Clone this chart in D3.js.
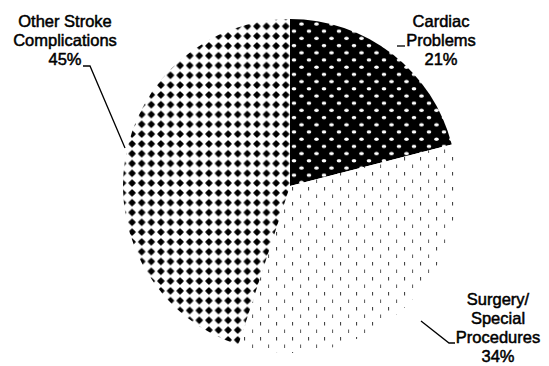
<!DOCTYPE html>
<html>
<head>
<meta charset="utf-8">
<script src="https://cdn.jsdelivr.net/npm/d3@7"></script>
<style>
  html, body { margin: 0; padding: 0; background: #fff; }
  svg { display: block; }
  text { font-family: "Liberation Sans", Arial, sans-serif; font-size: 16.5px; fill: #000; }
</style>
</head>
<body>
<svg id="chart" width="549" height="366"></svg>
<script>
// ---- data ----
const categories = ["Cardiac Problems", "Surgery/Special Procedures", "Other Stroke Complications"];
const values = [21, 34, 45];
const labelNames = [["Cardiac", "Problems"], ["Surgery/", "Special", "Procedures"], ["Other Stroke", "Complications"]];

// ---- layout ----
const W = 549, H = 366;
const cx = 290, cy = 186, R = 167;
const svg = d3.select("#chart");
const defs = svg.append("defs");

// Pattern: Cardiac - black with white staggered dots
const p1 = defs.append("pattern").attr("id", "pCardiac").attr("patternUnits", "userSpaceOnUse")
  .attr("width", 15).attr("height", 14.4);
p1.append("rect").attr("width", 15).attr("height", 14.4).attr("fill", "#000");
[[4, 3.6], [11.5, 10.8]].forEach(([x, y]) =>
  p1.append("ellipse").attr("cx", x).attr("cy", y).attr("rx", 2.3).attr("ry", 1.7).attr("fill", "#fff"));

// Pattern: Surgery - white with short vertical dashes
const p2 = defs.append("pattern").attr("id", "pSurgery").attr("patternUnits", "userSpaceOnUse")
  .attr("width", 16).attr("height", 15);
p2.append("rect").attr("width", 16).attr("height", 15).attr("fill", "#fff");
[[2, 1, "#444"], [10, 8.5, "#666"]].forEach(([x, y, c]) =>
  p2.append("rect").attr("x", x).attr("y", y).attr("width", 1.1).attr("height", 3.5).attr("fill", c));

// Pattern: Other - white with black diamonds
const p3 = defs.append("pattern").attr("id", "pOther").attr("patternUnits", "userSpaceOnUse")
  .attr("width", 9.6).attr("height", 9.8).attr("x", 0.5).attr("y", 2);
p3.append("rect").attr("width", 9.6).attr("height", 9.8).attr("fill", "#fff");
p3.append("path").attr("d", "M4.8,1.9 L7.8,4.9 L4.8,7.9 L1.8,4.9 Z")
  .attr("fill", "#000").attr("stroke", "#000").attr("stroke-width", 1.3).attr("stroke-linejoin", "round");

const fills = ["url(#pCardiac)", "url(#pSurgery)", "url(#pOther)"];

const pie = d3.pie().sort(null).value(d => d)(values);
const arc = d3.arc().innerRadius(0).outerRadius(R);

const g = svg.append("g").attr("transform", `translate(${cx},${cy})`);
g.selectAll("path.slice").data(pie).join("path")
  .attr("class", "slice")
  .attr("d", arc)
  .attr("fill", (d, i) => fills[i]);

// ---- labels ----
const labelPos = [
  { x: 441, y: 27, leader: [[397, 46], [405, 46]] },
  { x: 498, y: 305, leader: [[421, 321], [449, 343], [455, 343]] },
  { x: 65, y: 27, leader: [[83, 66], [90, 66], [125, 148]] }
];
const lh = 19;

labelNames.forEach((lines, i) => {
  const all = lines.concat([values[i] + "%"]);
  const t = svg.append("text").attr("text-anchor", "middle")
    .attr("stroke", "#000").attr("stroke-width", 0.5);
  all.forEach((s, k) => {
    t.append("tspan").attr("x", labelPos[i].x).attr("y", labelPos[i].y + k * lh).text(s);
  });
  svg.append("path")
    .attr("d", d3.line()(labelPos[i].leader))
    .attr("fill", "none").attr("stroke", "#000").attr("stroke-width", 1.3);
});
</script>
</body>
</html>
